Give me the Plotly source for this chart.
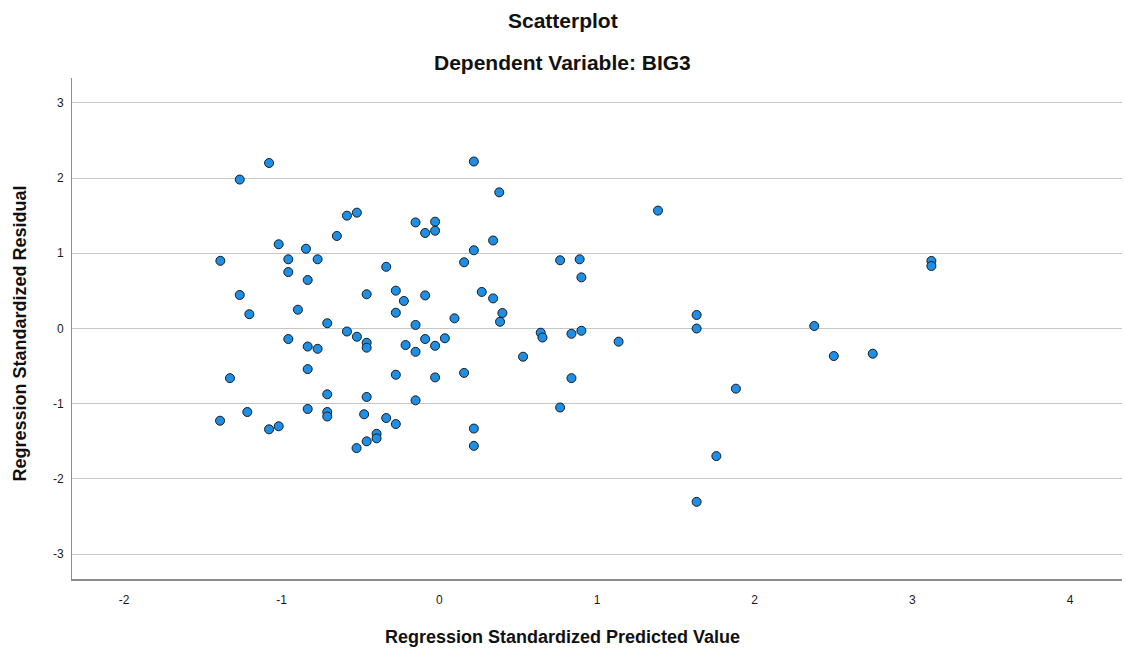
import plotly.graph_objects as go

pred = [-1.08, -1.266, 0.219, 0.38, -0.586, -0.523, -0.151, -0.027, -0.09, -0.027,
        -0.65, -1.019, -0.846, 0.341, 0.219, -1.389, -0.958, -0.772, 0.157, -0.958,
        -0.835, -0.337, -1.266, -0.461, -0.276, -0.09, -0.225, 0.269, 0.341, -1.205,
        -0.897, -0.276, 0.096, 0.40, 0.385, -0.711, -0.586, -0.523, -0.151, -0.958,
        -0.09, 0.035, -0.461, -0.461, -0.835, -0.772, -0.214, -0.151, -0.027, -1.328,
        -0.835, -0.276, -0.027, 0.157, -0.711, -0.461, -0.151, -1.391, -1.218, -1.08,
        -1.019, -0.835, -0.711, -0.711, -0.477, -0.337, -0.276, -0.398, -0.398, -0.461,
        -0.525, 0.219, 0.219, 0.766, 0.89, 0.901, 0.643, 0.654, 0.838, 0.901,
        1.137, 0.531, 0.838, 0.766, 1.387, 3.121, 3.121, 1.632, 1.632, 2.378,
        2.502, 2.749, 1.881, 1.757, 1.632]
resid = [2.20, 1.98, 2.22, 1.81, 1.50, 1.54, 1.41, 1.42, 1.27, 1.30,
         1.23, 1.12, 1.06, 1.17, 1.04, 0.90, 0.92, 0.92, 0.88, 0.75,
         0.645, 0.82, 0.446, 0.455, 0.503, 0.44, 0.366, 0.486, 0.40, 0.19,
         0.25, 0.21, 0.135, 0.206, 0.09, 0.07, -0.04, -0.11, 0.047, -0.14,
         -0.14, -0.13, -0.19, -0.255, -0.24, -0.27, -0.22, -0.31, -0.23, -0.66,
         -0.54, -0.615, -0.65, -0.59, -0.875, -0.91, -0.955, -1.226, -1.11, -1.34,
         -1.30, -1.07, -1.11, -1.17, -1.14, -1.19, -1.27, -1.40, -1.46, -1.50,
         -1.59, -1.33, -1.56, 0.907, 0.92, 0.68, -0.056, -0.12, -0.07, -0.03,
         -0.175, -0.375, -0.66, -1.05, 1.567, 0.898, 0.831, 0.18, 0.0, 0.033,
         -0.366, -0.335, -0.80, -1.696, -2.304]

x_ticks = [-2, -1, 0, 1, 2, 3, 4]
y_ticks = [-3, -2, -1, 0, 1, 2, 3]

title_text = "Scatterplot"
subtitle_text = "Dependent Variable: BIG3"
x_title = "Regression Standardized Predicted Value"
y_title = "Regression Standardized Residual"

FONT = "Liberation Sans, Arial, sans-serif"

fig = go.Figure()
fig.add_trace(go.Scatter(
    x=pred, y=resid, mode="markers",
    marker=dict(size=9, color="#1e8fe6", line=dict(color="#1a1a1a", width=1)),
    hoverinfo="x+y", showlegend=False,
))

fig.update_layout(
    width=1126, height=648,
    margin=dict(l=72, r=4, t=78, b=69),
    paper_bgcolor="white", plot_bgcolor="white",
    font=dict(family=FONT, color="#222222"),
    xaxis=dict(
        range=[-2.33, 4.33], tickvals=x_ticks, ticktext=[str(v) for v in x_ticks],
        showgrid=False, zeroline=False, showline=True, linecolor="#8c8c8c", linewidth=2,
        ticks="", ticklabelstandoff=9, tickfont=dict(size=12, color="#1a1a1a"),
    ),
    yaxis=dict(
        range=[-3.33, 3.33], tickvals=y_ticks, ticktext=[str(v) for v in y_ticks],
        showgrid=True, gridcolor="#c6c6c6", gridwidth=1.3, zeroline=False,
        showline=True, linecolor="#8c8c8c", linewidth=1,
        ticks="", ticklabelstandoff=5, tickfont=dict(size=12, color="#1a1a1a"),
    ),
    annotations=[
        dict(text="<b>" + title_text + "</b>", xref="paper", yref="paper",
             x=0.4676, y=1 + 58 / 501, xanchor="center", yanchor="middle",
             showarrow=False, font=dict(size=21, family=FONT, color="#111111")),
        dict(text="<b>" + subtitle_text + "</b>", xref="paper", yref="paper",
             x=0.4676, y=1 + 16 / 501, xanchor="center", yanchor="middle",
             showarrow=False, font=dict(size=21, family=FONT, color="#111111")),
        dict(text="<b>" + x_title + "</b>", xref="paper", yref="paper",
             x=0.4676, y=-58 / 501, xanchor="center", yanchor="middle",
             showarrow=False, font=dict(size=18, family=FONT, color="#111111")),
        dict(text="<b>" + y_title + "</b>", xref="paper", yref="paper",
             x=-52 / 1050, y=0.49, xanchor="center", yanchor="middle", textangle=-90,
             showarrow=False, font=dict(size=18, family=FONT, color="#111111")),
    ],
)

fig.write_html("out.html", config={"displayModeBar": False},
               post_script="document.body.style.margin='0';")
